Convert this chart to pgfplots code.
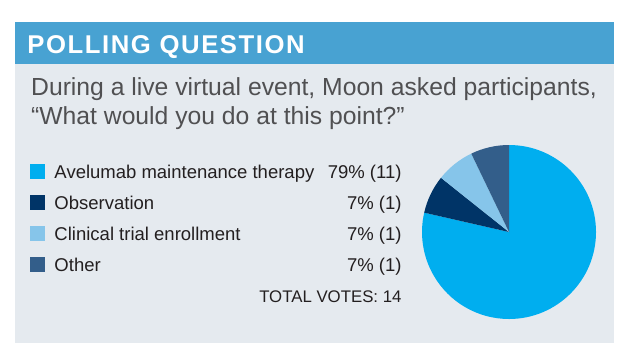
\documentclass[border=0pt]{standalone}
\usepackage{pgfplots}
\usepackage{pgfplotstable}
\pgfplotsset{compat=1.18}
\usepackage{fontspec}
\setmainfont{Liberation Sans}
\newfontfamily\headfont{Liberation Sans}[LetterSpace=6]
\definecolor{hdr}{RGB}{72,162,210}
\definecolor{bodybg}{RGB}{229,234,239}
\definecolor{subt}{RGB}{80,80,82}
\definecolor{txt}{RGB}{35,31,32}
\definecolor{cA}{RGB}{0,174,239}
\definecolor{cB}{RGB}{0,52,103}
\definecolor{cC}{RGB}{134,197,234}
\definecolor{cD}{RGB}{51,94,138}
\pgfplotstableread{
label votes
Avelumab 11
Observation 1
Clinical 1
Other 1
}\piedata
\begin{document}
\begin{tikzpicture}
\pgfplotstablegetelem{0}{votes}\of\piedata\edef\va{\pgfplotsretval}
\pgfplotstablegetelem{1}{votes}\of\piedata\edef\vb{\pgfplotsretval}
\pgfplotstablegetelem{2}{votes}\of\piedata\edef\vc{\pgfplotsretval}
\pgfplotstablegetelem{3}{votes}\of\piedata\edef\vd{\pgfplotsretval}
\pgfmathsetmacro\tot{\va+\vb+\vc+\vd}
\pgfmathsetmacro\aA{90}
\pgfmathsetmacro\aB{\aA-360*\va/\tot}
\pgfmathsetmacro\aC{\aB-360*\vb/\tot}
\pgfmathsetmacro\aD{\aC-360*\vc/\tot}
\pgfmathsetmacro\aE{\aD-360*\vd/\tot}
\begin{scope}[x=1bp,y=-1bp]
\fill[white] (0,0) rectangle (630,358);
\useasboundingbox (0,0) rectangle (630,358);
\fill[bodybg] (15,64) rectangle (614,343);
\fill[hdr] (15,22) rectangle (614,64.3);
\node[anchor=base west,inner sep=0pt,text=white] at (27.3,53.7)
  {\fontsize{25.7bp}{28bp}\headfont\bfseries POLLING QUESTION};
\node[anchor=base west,inner sep=0pt,text=subt] at (31,95.5)
  {\fontsize{24.7bp}{26bp}\selectfont During a live virtual event, Moon asked participants,};
\node[anchor=base west,inner sep=0pt,text=subt] at (31,124.3)
  {\fontsize{24.7bp}{26bp}\selectfont “What would you do at this point?”};
\foreach \c/\lab/\val [count=\i from 0] in {cA/Avelumab maintenance therapy/79\% (11),cB/Observation/7\% (1),cC/Clinical trial enrollment/7\% (1),cD/Other/7\% (1)}{
  \pgfmathsetmacro\yb{178.4+31*\i}
  \fill[\c] (30,\yb+0.6) rectangle (44.7,\yb-14.4);
  \node[anchor=base west,inner sep=0pt,text=txt] at (54.3,\yb)
    {\fontsize{18.5bp}{20bp}\selectfont \lab};
  \node[anchor=base east,inner sep=0pt,text=txt] at (401.7,\yb)
    {\fontsize{18.5bp}{20bp}\selectfont \val};
}
\node[anchor=base east,inner sep=0pt,text=txt] at (401.7,302.3)
  {\fontsize{16.8bp}{20bp}\selectfont TOTAL VOTES:\ 14};
\end{scope}
\begin{axis}[at={(509bp,-232bp)},anchor=center,
  scale only axis,width=174bp,height=174bp,
  xmin=-1,xmax=1,ymin=-1,ymax=1,hide axis,clip=false]
\fill[cA] (axis cs:0,0) -- (axis cs:{cos(\aA)},{sin(\aA)}) arc[start angle=\aA,end angle=\aB,radius=87bp] -- cycle;
\fill[cB] (axis cs:0,0) -- (axis cs:{cos(\aB)},{sin(\aB)}) arc[start angle=\aB,end angle=\aC,radius=87bp] -- cycle;
\fill[cC] (axis cs:0,0) -- (axis cs:{cos(\aC)},{sin(\aC)}) arc[start angle=\aC,end angle=\aD,radius=87bp] -- cycle;
\fill[cD] (axis cs:0,0) -- (axis cs:{cos(\aD)},{sin(\aD)}) arc[start angle=\aD,end angle=\aE,radius=87bp] -- cycle;
\end{axis}
\end{tikzpicture}
\end{document}
